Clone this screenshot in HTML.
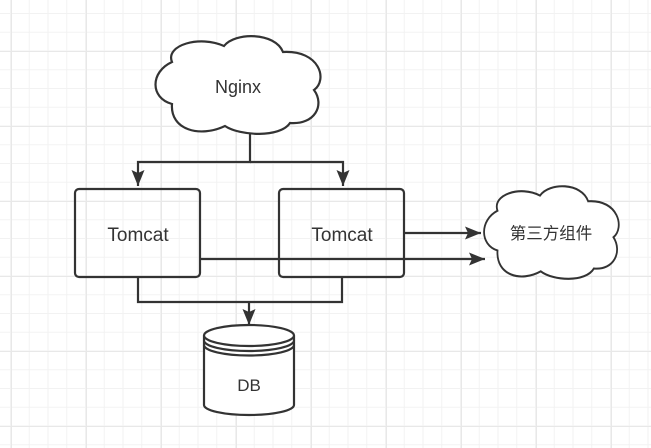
<!DOCTYPE html>
<html><head><meta charset="utf-8"><style>
html,body{margin:0;padding:0;background:#fff;}
svg{display:block;}
text{font-family:"Liberation Sans","Noto Sans CJK SC",sans-serif;fill:#333;}
</style></head><body>
<svg width="651" height="448" viewBox="0 0 651 448" xmlns="http://www.w3.org/2000/svg">
<defs>
<pattern id="minor" width="18.75" height="18.75" patternUnits="userSpaceOnUse" x="10" y="13">
<path d="M0 0.5H18.75M0.5 0V18.75" stroke="#f2f2f2" stroke-width="1" fill="none"/>
</pattern>
<pattern id="major" width="75" height="75" patternUnits="userSpaceOnUse" x="86" y="51">
<path d="M0 0.5H75M0.5 0V75" stroke="#e8e8e8" stroke-width="1" fill="none"/>
</pattern>
<marker id="ar" markerWidth="17" markerHeight="14" refX="16" refY="7" orient="auto" markerUnits="userSpaceOnUse" viewBox="0 0 17 14">
<path d="M0 0.5L16 7L0 13.5L3 7Z" fill="#333"/>
</marker>
<path id="cloud" d="M172,62 C165,45 200,35 224,46 C235,32 275,32 283,52 C320,50 328,80 314,90 C325,105 315,125 290,123 C280,138 240,136 225,126 C200,138 170,130 172,104 C150,98 150,72 172,62 Z"/>
</defs>
<rect width="651" height="448" fill="#fff"/>
<rect width="651" height="448" fill="url(#minor)"/>
<rect width="651" height="448" fill="url(#major)"/>

<g stroke="#333" stroke-width="2.2" fill="none">
<use href="#cloud" fill="#fff"/>
<g transform="translate(482,188) scale(0.8166,0.947) translate(-153,-38)">
<use href="#cloud" fill="#fff" vector-effect="non-scaling-stroke" style="vector-effect:non-scaling-stroke"/>
</g>
<path d="M250,134V162H138V186" marker-end="url(#ar)"/>
<path d="M250,162H343V186" marker-end="url(#ar)"/>
<path d="M404,233H481" marker-end="url(#ar)"/>
<path d="M200,259H485" marker-end="url(#ar)"/>
<path d="M138,277V302H342V277"/>
<path d="M249,302V325" marker-end="url(#ar)"/>
<rect x="75" y="189" width="125" height="88" rx="4"/>
<rect x="279" y="189" width="125" height="88" rx="4"/>
<path fill="#fff" d="M204,335.5 A45,10.5 0 0 1 294,335.5 V405 A45,10 0 0 1 204,405Z"/>
<path d="M204,335.5 A45,10.5 0 0 0 294,335.5"/>
<path d="M204,340.5 A45,10.5 0 0 0 294,340.5"/>
<path d="M204,345 A45,10.5 0 0 0 294,345"/>
</g>
<text x="238" y="93" text-anchor="middle" font-size="18">Nginx</text>
<text x="138" y="241" text-anchor="middle" font-size="19">Tomcat</text>
<text x="342" y="241" text-anchor="middle" font-size="19">Tomcat</text>
<text x="551" y="239" text-anchor="middle" font-size="16.5">第三方组件</text>
<text x="249" y="391" text-anchor="middle" font-size="17">DB</text>
</svg>
</body></html>
